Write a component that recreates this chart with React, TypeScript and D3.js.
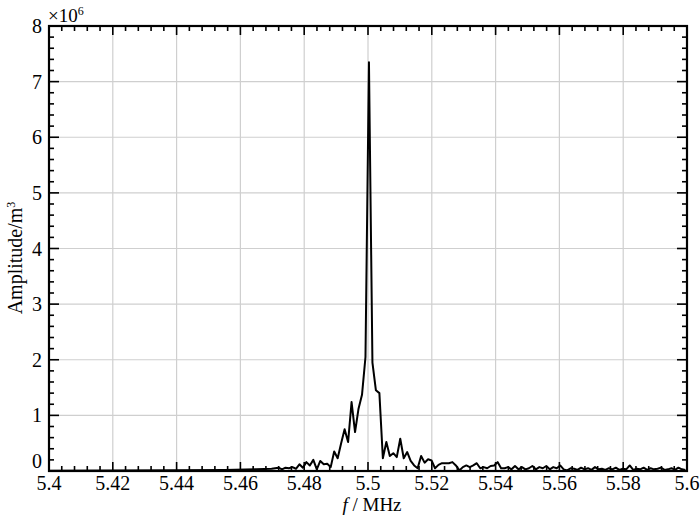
import React from "react";
import * as d3 from "d3";

// Sparse low-frequency tail (MHz, amplitude in 1e6 m^3)
const tailFreq = [5.4, 5.42, 5.44, 5.455, 5.465];
const tailAmp = [0.005, 0.008, 0.012, 0.02, 0.03];

// Dense sampling grid
const gridStart = 5.46978;
const gridStep = 0.00109;
const gridAmp = [
  // left of peak
  0.04, 0.05, 0.06, 0.03, 0.06, 0.05, 0.07, 0.04, 0.12, 0.06, 0.16, 0.1, 0.2, 0.03,
  0.18, 0.12, 0.13, 0.07, 0.35, 0.23, 0.5, 0.75, 0.52, 1.24, 0.7, 1.12, 1.37, 2.05,
  // peak
  7.35,
  // right of peak
  1.95, 1.45, 1.4, 0.23, 0.52, 0.27, 0.32, 0.25, 0.58, 0.23, 0.34, 0.18, 0.1, 0.05,
  0.27, 0.15, 0.21, 0.19, 0.05, 0.11, 0.14,
  0.14, 0.14, 0.16, 0.1, 0.01, 0.07, 0.1, 0.07, 0.1, 0.14, 0.05, 0.07, 0.05, 0.09,
  0.1, 0.16, 0.05, 0.05, 0.07, 0.03, 0.09, 0.03, 0.07, 0.03, 0.05, 0.09, 0.03, 0.07,
  0.05, 0.09, 0.03, 0.07, 0.05, 0.1, 0.03, 0.01, 0.05,
  0.04, 0.02, 0.06, 0.03, 0.05, 0.02, 0.07, 0.03, 0.04, 0.02, 0.05, 0.03, 0.06, 0.02,
  0.04, 0.03, 0.1, 0.02, 0.04, 0.03, 0.06, 0.02, 0.05, 0.03, 0.04, 0.06, 0.02, 0.03,
  0.05, 0.02, 0.06, 0.03, 0.02,
];

const xTicks = [5.4, 5.42, 5.44, 5.46, 5.48, 5.5, 5.52, 5.54, 5.56, 5.58, 5.6];
const yTicks = [0, 1, 2, 3, 4, 5, 6, 7, 8];

const W = 700;
const H = 517;
const M = { left: 49, right: 13, top: 26, bottom: 46 };
const FONT = "'Liberation Serif', 'Times New Roman', serif";

export default function App() {
  const x = d3.scaleLinear().domain([5.4, 5.6]).range([M.left, W - M.right]);
  const y = d3.scaleLinear().domain([0, 8]).range([H - M.bottom, M.top]);

  const pts: [number, number][] = [];
  tailFreq.forEach((f, i) => pts.push([f, tailAmp[i]]));
  gridAmp.forEach((a, i) => pts.push([gridStart + i * gridStep, a]));

  const line = d3
    .line<[number, number]>()
    .x((d) => x(d[0]))
    .y((d) => y(d[1]));

  const xMinor: number[] = [];
  for (let i = 0; i <= 50; i++) if (i % 5 !== 0) xMinor.push(5.4 + i * 0.004);
  const yMinor: number[] = [];
  for (let i = 0; i <= 40; i++) if (i % 5 !== 0) yMinor.push(i * 0.2);

  const x0 = M.left;
  const x1 = W - M.right;
  const y0 = H - M.bottom;
  const y1 = M.top;

  return (
    <svg
      width={W}
      height={H}
      style={{ position: "absolute", left: 0, top: 0, background: "#fff" }}
      fontFamily={FONT}
    >
      <rect width={W} height={H} fill="#fff" />
      {/* grid */}
      {xTicks.slice(1, -1).map((t) => (
        <line key={"gx" + t} x1={x(t)} x2={x(t)} y1={y0} y2={y1} stroke="#cfcfcf" strokeWidth={1.2} />
      ))}
      {yTicks.slice(1, -1).map((t) => (
        <line key={"gy" + t} x1={x0} x2={x1} y1={y(t)} y2={y(t)} stroke="#cfcfcf" strokeWidth={1.2} />
      ))}
      {/* data */}
      <path d={line(pts) || ""} fill="none" stroke="#000" strokeWidth={2} strokeLinejoin="round" />
      {/* ticks */}
      <g stroke="#000" strokeWidth={1.6}>
        {xTicks.map((t) => (
          <g key={"tx" + t}>
            <line x1={x(t)} x2={x(t)} y1={y0} y2={y0 - 9} />
            <line x1={x(t)} x2={x(t)} y1={y1} y2={y1 + 9} />
          </g>
        ))}
        {xMinor.map((t, i) => (
          <g key={"mx" + i}>
            <line x1={x(t)} x2={x(t)} y1={y0} y2={y0 - 5} />
            <line x1={x(t)} x2={x(t)} y1={y1} y2={y1 + 5} />
          </g>
        ))}
        {yTicks.map((t) => (
          <g key={"ty" + t}>
            <line x1={x0} x2={x0 + 10} y1={y(t)} y2={y(t)} />
            <line x1={x1} x2={x1 - 10} y1={y(t)} y2={y(t)} />
          </g>
        ))}
        {yMinor.map((t, i) => (
          <g key={"my" + i}>
            <line x1={x0} x2={x0 + 5} y1={y(t)} y2={y(t)} />
            <line x1={x1} x2={x1 - 5} y1={y(t)} y2={y(t)} />
          </g>
        ))}
      </g>
      {/* frame */}
      <rect x={x0} y={y1} width={x1 - x0} height={y0 - y1} fill="none" stroke="#000" strokeWidth={2.2} />
      {/* tick labels */}
      {xTicks.map((t) => (
        <text key={"lx" + t} x={x(t)} y={y0 + 19} textAnchor="middle" fontSize={20}>
          {String(t)}
        </text>
      ))}
      {yTicks.map((t) => (
        <text key={"ly" + t} x={x0 - 7} y={y(t) + (t === 0 ? -3 : 7)} textAnchor="end" fontSize={20}>
          {String(t)}
        </text>
      ))}
      {/* multiplier */}
      <text x={x0 - 1} y={22} fontSize={19}>
        ×10
        <tspan dy={-7} fontSize={12}>
          6
        </tspan>
      </text>
      {/* axis labels */}
      <text x={372} y={511} textAnchor="middle" fontSize={19}>
        <tspan fontStyle="italic">f</tspan>
        <tspan> / MHz</tspan>
      </text>
      <text transform={`translate(22, 258) rotate(-90)`} textAnchor="middle" fontSize={20}>
        Amplitude/m
        <tspan dy={-7} fontSize={12}>
          3
        </tspan>
      </text>
    </svg>
  );
}
